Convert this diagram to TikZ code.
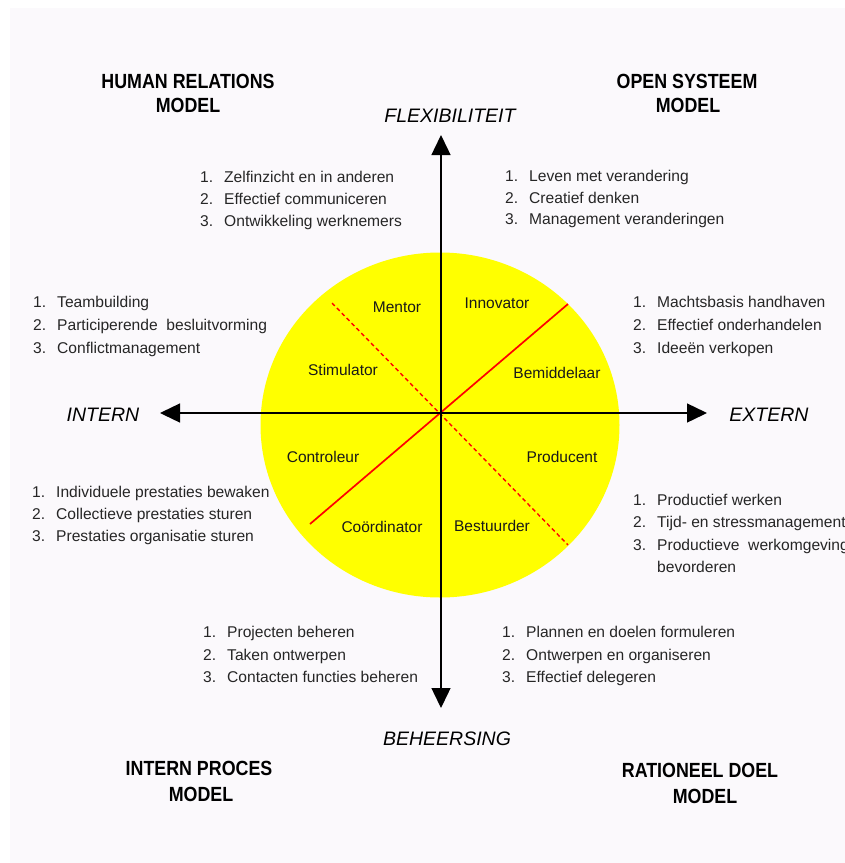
\documentclass[tikz,border=0pt]{standalone}
\usepackage{fontspec}
\setmainfont{Liberation Sans}
\usetikzlibrary{arrows.meta}
\definecolor{bgpage}{HTML}{FBF9FC}
\definecolor{circfill}{HTML}{FFFF00}
\definecolor{redline}{HTML}{FF0000}
\tikzset{
  lst/.style={anchor=base west, inner sep=0pt, text=black!85, font=\fontsize{15.6}{18}\selectfont},
  role/.style={inner sep=0pt, text=black!90, font=\fontsize{15.5}{18}\selectfont},
  axlabel/.style={inner sep=0pt, anchor=base, font=\fontsize{19.5}{22}\selectfont\itshape},
  title/.style={inner sep=0pt, anchor=base, font=\fontsize{20.5}{24}\selectfont\bfseries},
  axis/.style={line width=1.4pt, -{Triangle[length=20pt,width=19pt]}},
  redsolid/.style={redline, line width=1.7pt},
  reddash/.style={redline, line width=1.4pt, dash pattern=on 4pt off 3pt}
}
\newcommand{\itm}[2]{\makebox[24pt][l]{#1.}#2}
\newcommand{\ttl}[1]{\scalebox{0.87}[1]{#1}}
\begin{document}
\begin{tikzpicture}[x=1pt,y=-1pt]
\useasboundingbox (0,0) rectangle (845,863);
\fill[white] (0,0) rectangle (845,863);
\fill[bgpage] (10,8) rectangle (845,863);

% circle
\fill[circfill] (440,425) ellipse [x radius=179.5, y radius=172.5];

% center and endpoints
\coordinate (O) at (441,413);
\coordinate (top) at (441,135);
\coordinate (bot) at (441,708);
\coordinate (lft) at (160,413);
\coordinate (rgt) at (707,413);
\coordinate (sA) at (310,524);
\coordinate (sB) at (568,304);
\coordinate (dA) at (332,303);
\coordinate (dB) at (568,545);

% red diagonals
\draw[redsolid] (sA) -- (sB);
\draw[reddash] (dA) -- (dB);

% axes
\draw[axis] (O) -- (top);
\draw[axis] (O) -- (bot);
\draw[axis] (O) -- (lft);
\draw[axis] (O) -- (rgt);

% roles
\node[role] (mentor) at (397,307) {Mentor};
\node[role] (innov) at (497,303) {Innovator};
\node[role] (stim) at (343,370) {Stimulator};
\node[role] (bemid) at (557,373) {Bemiddelaar};
\node[role] (contr) at (323,457) {Controleur};
\node[role] (prod) at (562,457) {Producent};
\node[role] (coord) at (382,527) {Coördinator};
\node[role] (best) at (492,526) {Bestuurder};

% axis labels
\node[axlabel] (flex) at (450,122) {FLEXIBILITEIT};
\node[axlabel] (beh) at (447,745) {BEHEERSING};
\node[axlabel] (int) at (103,421) {INTERN};
\node[axlabel] (ext) at (769,421) {EXTERN};

% titles
\node[title] (hr1) at (188,88) {\ttl{HUMAN RELATIONS}};
\node[title] (hr2) at (188,112) {\ttl{MODEL}};
\node[title] (os1) at (687,88) {\ttl{OPEN SYSTEEM}};
\node[title] (os2) at (688,112) {\ttl{MODEL}};
\node[title] (ip1) at (199,775) {\ttl{INTERN PROCES}};
\node[title] (ip2) at (201,801) {\ttl{MODEL}};
\node[title] (rd1) at (700,777) {\ttl{RATIONEEL DOEL}};
\node[title] (rd2) at (705,803) {\ttl{MODEL}};

% lists
\node[lst] (a1) at (200,182.5) {\itm{1}{Zelfinzicht en in anderen}};
\node[lst] (a2) at (200,204.5) {\itm{2}{Effectief communiceren}};
\node[lst] (a3) at (200,226.5) {\itm{3}{Ontwikkeling werknemers}};

\node[lst] (b1) at (505,181.5) {\itm{1}{Leven met verandering}};
\node[lst] (b2) at (505,203.5) {\itm{2}{Creatief denken}};
\node[lst] (b3) at (505,224.5) {\itm{3}{Management veranderingen}};

\node[lst] (c1) at (33,307.5) {\itm{1}{Teambuilding}};
\node[lst] (c2) at (33,330.5) {\itm{2}{Participerende\ \ besluitvorming}};
\node[lst] (c3) at (33,353.5) {\itm{3}{Conflictmanagement}};

\node[lst] (d1) at (633,307.5) {\itm{1}{Machtsbasis handhaven}};
\node[lst] (d2) at (633,330.5) {\itm{2}{Effectief onderhandelen}};
\node[lst] (d3) at (633,353.5) {\itm{3}{Ideeën verkopen}};

\node[lst] (e1) at (32,497.5) {\itm{1}{Individuele prestaties bewaken}};
\node[lst] (e2) at (32,519.5) {\itm{2}{Collectieve prestaties sturen}};
\node[lst] (e3) at (32,541.5) {\itm{3}{Prestaties organisatie sturen}};

\node[lst] (f1) at (633,505.5) {\itm{1}{Productief werken}};
\node[lst] (f2) at (633,527.5) {\itm{2}{Tijd- en stressmanagement}};
\node[lst] (f3) at (633,550.5) {\itm{3}{Productieve\ \ werkomgeving}};
\node[lst] (f4) at (657,572.5) {bevorderen};

\node[lst] (g1) at (203,637.5) {\itm{1}{Projecten beheren}};
\node[lst] (g2) at (203,660.5) {\itm{2}{Taken ontwerpen}};
\node[lst] (g3) at (203,682.5) {\itm{3}{Contacten functies beheren}};

\node[lst] (h1) at (502,637.5) {\itm{1}{Plannen en doelen formuleren}};
\node[lst] (h2) at (502,660.5) {\itm{2}{Ontwerpen en organiseren}};
\node[lst] (h3) at (502,682.5) {\itm{3}{Effectief delegeren}};
\end{tikzpicture}
\end{document}
